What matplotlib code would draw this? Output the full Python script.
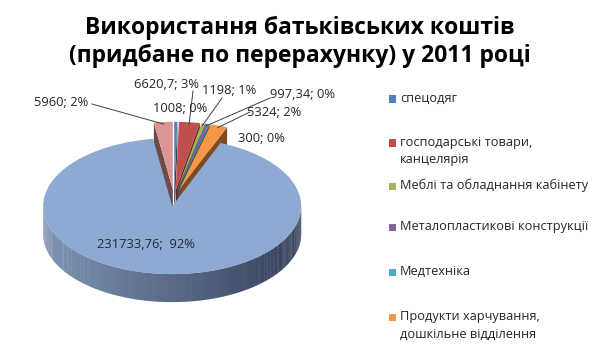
import numpy as np
import matplotlib
matplotlib.use('Agg')
import matplotlib.pyplot as plt
from matplotlib.colors import to_rgb

plt.rcParams['font.family'] = ['Open Sans', 'DejaVu Sans']

# data (clockwise from 12 o'clock)
legend_names = ['спецодяг', 'господарські товари,\nканцелярія', 'Меблі та обладнання кабінету',
                'Металопластикові конструкції', 'Медтехніка', 'Продукти харчування,\nдошкільне відділення']
values = [1008, 6620.7, 1198, 997.34, 300, 5324, 231733.76, 5960]
pcts = [0, 3, 1, 0, 0, 2, 92, 2]
colors = ['#4F81BD', '#C0504D', '#9BBB59', '#8064A2', '#4BACC6', '#F79646', '#8EA9D2', '#D99694']

W, H = 600, 357
CX, CY, A, B = 174, 198, 129, 68      # pie centre and half-axes in pixels
DEPTH = 28 / B

fig = plt.figure(figsize=(6, 3.57), dpi=100)
ax = fig.add_axes([0, 0, 1, 1])


def px(x, y):
    return (x - CX) / A, (CY - y) / B


wedges, _ = ax.pie(values, colors=colors, startangle=90, counterclock=False,
                   explode=[0.12] * len(values), wedgeprops=dict(linewidth=0))
ax.set_aspect('auto')
ax.set_xlim(-CX / A, (W - CX) / A)
ax.set_ylim((CY - H) / B, CY / B)
ax.axis('off')


def darker(c, f):
    r, g, b = to_rgb(c)
    return (r * f, g * f, b * f)


big = int(np.argmax(values))
light, dark = np.array(to_rgb('#7F93B4')), np.array(to_rgb('#34405A'))
for i, w in enumerate(wedges):
    z = 4 if i == big else 2
    w.set_zorder(z + 0.5)
    cx, cy = w.center
    r = w.r
    # radial cut faces
    for t, nrm in ((w.theta1, w.theta1 - 90), (w.theta2, w.theta2 + 90)):
        if np.sin(np.radians(nrm)) < 0:
            ex, ey = cx + r * np.cos(np.radians(t)), cy + r * np.sin(np.radians(t))
            ax.fill([cx, ex, ex, cx], [cy, ey, ey - DEPTH, cy - DEPTH],
                    color=darker(colors[i], 0.5), lw=0, zorder=z)
    # outer wall, front half only
    ts = np.arange(w.theta1, w.theta2 + 1, 1.0)
    ts[-1] = min(ts[-1], w.theta2)
    for t0, t1 in zip(ts[:-1], ts[1:]):
        tm = np.radians((t0 + t1) / 2)
        if np.sin(tm) >= 0:
            continue
        a0, a1 = np.radians(t0), np.radians(t1 + 0.3)
        xs = [cx + r * np.cos(a0), cx + r * np.cos(a1)]
        ys = [cy + r * np.sin(a0), cy + r * np.sin(a1)]
        if i == big:
            f = (1 + np.cos(tm)) / 2
            col = light * (1 - f) + dark * f
        else:
            col = darker(colors[i], 0.55)
        ax.fill([xs[0], xs[1], xs[1], xs[0]], [ys[0], ys[1], ys[1] - DEPTH, ys[0] - DEPTH],
                color=col, lw=0, zorder=z)


def fmt(v):
    return ('%.2f' % v).rstrip('0').rstrip('.').replace('.', ',')


# label layout in pixels (text centre) and leader start points
label_pos = [(180, 108), (166, 84), (229, 91), (302, 94), (261, 138), (274, 112), (146, 245), (61, 103)]
leader = [False, True, True, True, False, True, False, True]
text_anchor = [None, (193, 91), (222, 98), (270, 98), None, (250, 112), None, (92, 104)]
for i, w in enumerate(wedges):
    txt = '%s; %d%%' % (fmt(values[i]), pcts[i])
    if i == big:
        txt = '%s;  %d%%' % (fmt(values[i]), pcts[i])
    tx, ty = px(*label_pos[i])
    ax.text(tx, ty, txt, ha='center', va='center', fontsize=9.3,
            color='#1F2A3A' if i == big else '#262626', zorder=10)
    if leader[i]:
        tm = np.radians((w.theta1 + w.theta2) / 2)
        cx, cy = w.center
        ex, ey = cx + 0.97 * w.r * np.cos(tm), cy + 0.97 * w.r * np.sin(tm)
        ax.plot([px(*text_anchor[i])[0], ex], [px(*text_anchor[i])[1], ey],
                color='#404040', lw=0.7, zorder=9)

fig.text(0.5, 1 - 42 / H, 'Використання батьківських коштів\n(придбане по перерахунку) у 2011 році',
         ha='center', va='center', fontsize=16.5, fontweight='bold', linespacing=1.22)

# legend (only the first six categories are visible in the original)
leg_y = [99, 143, 186, 227, 272, 317]
for name, c, y in zip(legend_names, colors, leg_y):
    fig.patches.append(plt.Rectangle((389 / W, 1 - (y + 3.5) / H), 7 / W, 7 / H,
                                     transform=fig.transFigure, color=c, lw=0))
    fig.text(400 / W, 1 - (y - 7) / H, name, ha='left', va='top', fontsize=9.2,
             color='#262626', linespacing=1.45)

fig.savefig('out.png', dpi=100)
